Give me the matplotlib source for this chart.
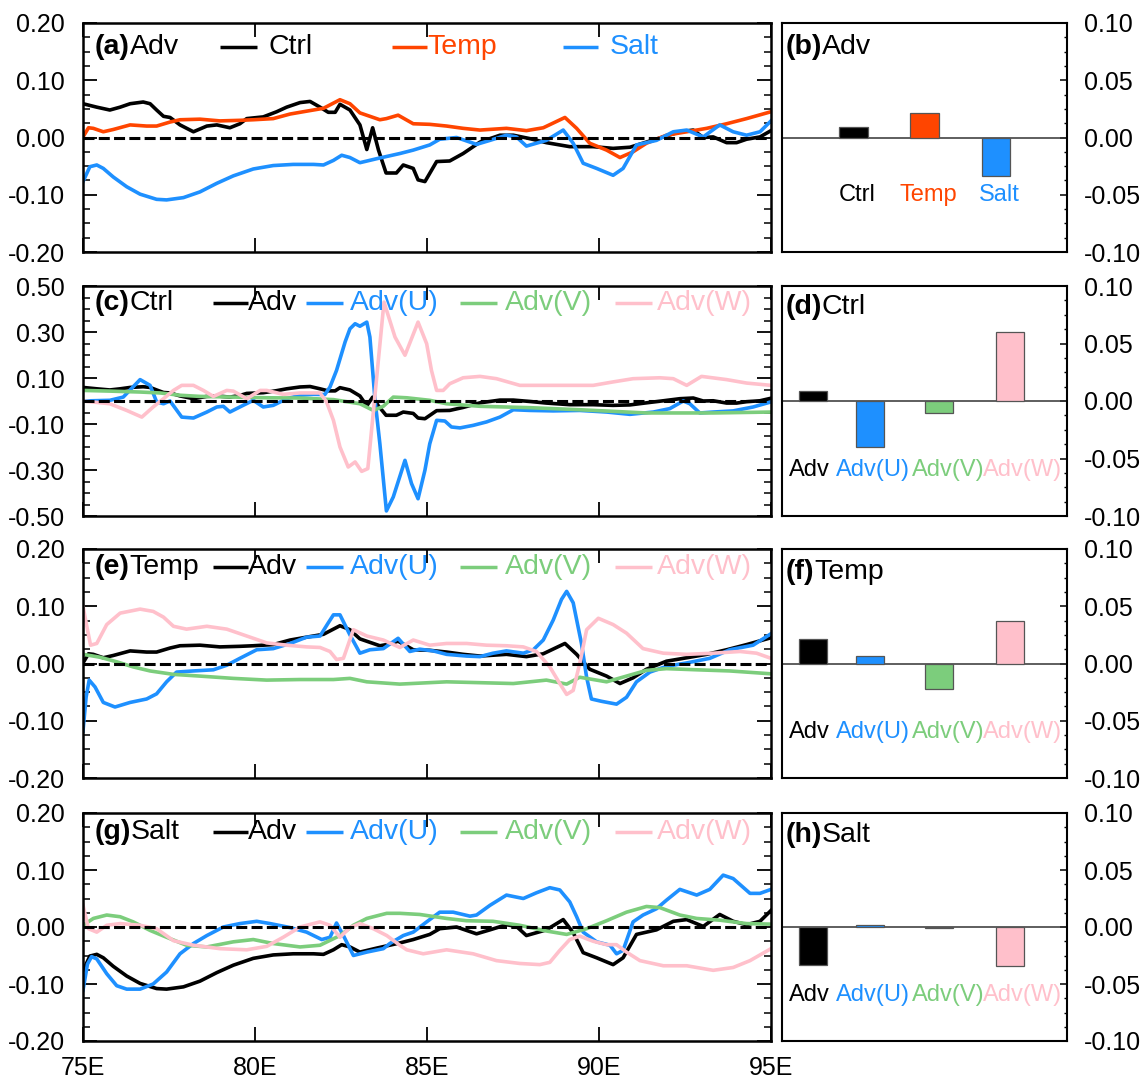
import matplotlib
matplotlib.use("Agg")
import matplotlib.pyplot as plt
from matplotlib.ticker import MultipleLocator, FixedLocator, FormatStrFormatter

plt.rcParams["font.family"] = ["Liberation Sans", "DejaVu Sans"]
plt.rcParams["axes.unicode_minus"] = False

# ---- zonal sections of advection terms (lon, value) ----
ctrl_adv_lon = [75.0, 75.4, 75.78, 76.08, 76.37, 76.75, 76.95, 77.14, 77.34, 77.53, 77.82, 78.21,
                78.6, 78.89, 79.27, 79.56, 79.76, 80.24, 80.63, 80.92, 81.31, 81.6, 81.89, 82.13,
                82.33, 82.47, 82.76, 83.05, 83.25, 83.42, 83.59, 83.81, 84.11, 84.31, 84.6, 84.74,
                84.94, 85.28, 85.66, 86.05, 86.54, 87.12, 87.51, 87.99, 88.47, 89.15, 89.83, 90.41,
                90.9, 91.38, 91.87, 92.35, 92.74, 93.03, 93.32, 93.71, 94.0, 94.29, 94.68, 95.0]
ctrl_adv = [0.059, 0.053, 0.048, 0.053, 0.059, 0.062, 0.059, 0.048, 0.037, 0.035, 0.022, 0.010,
            0.020, 0.022, 0.017, 0.024, 0.033, 0.036, 0.045, 0.053, 0.061, 0.063, 0.053, 0.044,
            0.044, 0.058, 0.048, 0.022, -0.021, 0.017, -0.022, -0.062, -0.062, -0.048, -0.054, -0.074,
            -0.077, -0.042, -0.041, -0.028, -0.008, 0.004, 0.004, -0.002, -0.009, -0.016, -0.016, -0.019,
            -0.017, -0.008, 0.001, 0.010, 0.013, 0.000, 0.001, -0.009, -0.009, -0.003, 0.001, 0.012]

temp_adv_lon = [75.0, 75.16, 75.3, 75.59, 75.88, 76.37, 76.85, 77.14, 77.53, 77.82, 78.4, 78.98,
                79.56, 79.95, 80.53, 81.02, 81.5, 81.99, 82.47, 82.76, 83.05, 83.63, 83.82, 84.16,
                84.6, 85.08, 85.57, 86.05, 86.54, 87.31, 87.89, 88.38, 89.01, 89.35, 89.73, 90.22,
                90.61, 90.99, 91.38, 91.96, 92.55, 93.13, 93.71, 94.29, 95.0]
temp_adv = [0.001, 0.017, 0.016, 0.010, 0.014, 0.022, 0.020, 0.020, 0.027, 0.031, 0.032, 0.029,
            0.030, 0.031, 0.033, 0.041, 0.046, 0.051, 0.066, 0.059, 0.043, 0.031, 0.033, 0.039,
            0.024, 0.023, 0.020, 0.016, 0.013, 0.016, 0.012, 0.017, 0.035, 0.016, -0.010, -0.022,
            -0.035, -0.025, -0.010, 0.004, 0.010, 0.016, 0.024, 0.033, 0.045]

salt_adv_lon = [75.0, 75.2, 75.4, 75.59, 75.88, 76.27, 76.66, 77.14, 77.43, 77.92, 78.4, 78.89,
                79.37, 79.95, 80.53, 81.11, 81.7, 81.99, 82.28, 82.52, 82.76, 83.05, 83.54, 84.21,
                84.6, 85.08, 85.37, 85.86, 86.44, 86.83, 87.31, 87.6, 87.89, 88.47, 88.96, 89.25,
                89.54, 89.93, 90.41, 90.7, 91.09, 91.67, 92.16, 92.55, 93.03, 93.51, 93.9, 94.29,
                94.68, 95.0]
salt_adv = [-0.077, -0.051, -0.048, -0.054, -0.069, -0.086, -0.099, -0.108, -0.109, -0.105, -0.095, -0.080,
            -0.067, -0.055, -0.049, -0.047, -0.047, -0.048, -0.040, -0.031, -0.035, -0.044, -0.037, -0.028,
            -0.022, -0.013, -0.003, 0.000, -0.012, -0.005, 0.004, 0.001, -0.015, -0.005, 0.013, -0.010,
            -0.045, -0.054, -0.066, -0.054, -0.013, -0.005, 0.010, 0.013, 0.001, 0.022, 0.010, 0.004,
            0.010, 0.029]

ctrl_u_lon = [75.0, 75.78, 76.17, 76.66, 76.95, 77.14, 77.34, 77.53, 77.87, 78.21, 78.6, 78.89,
              79.08, 79.27, 79.56, 79.95, 80.24, 80.53, 80.92, 81.31, 81.7, 82.03, 82.18, 82.37,
              82.62, 82.76, 82.91, 83.05, 83.25, 83.34, 83.49, 83.63, 83.82, 84.02, 84.36, 84.55,
              84.74, 84.94, 85.08, 85.28, 85.52, 85.71, 85.96, 86.34, 86.73, 87.12, 87.51, 87.99,
              88.67, 89.44, 90.22, 90.9, 91.58, 92.06, 92.45, 92.64, 92.93, 93.32, 93.9, 94.48, 95.0]
ctrl_u = [0.000, 0.003, 0.017, 0.093, 0.068, -0.004, -0.012, 0.000, -0.070, -0.074, -0.048, -0.026,
          -0.023, -0.048, -0.026, 0.003, -0.026, -0.019, 0.010, 0.025, 0.029, 0.028, 0.061, 0.133,
          0.257, 0.314, 0.336, 0.325, 0.343, 0.278, 0.003, -0.186, -0.478, -0.417, -0.258, -0.359,
          -0.425, -0.301, -0.186, -0.084, -0.087, -0.113, -0.117, -0.106, -0.091, -0.070, -0.038, -0.041,
          -0.043, -0.041, -0.048, -0.058, -0.048, -0.033, 0.000, -0.012, -0.052, -0.048, -0.043, -0.026, -0.004]

ctrl_v_lon = [75.0, 75.78, 76.66, 77.24, 77.82, 78.4, 79.37, 80.34, 81.31, 82.28, 83.05, 83.44,
              83.73, 84.02, 84.41, 85.08, 85.57, 86.54, 87.99, 89.44, 91.38, 93.32, 95.0]
ctrl_v = [0.046, 0.043, 0.039, 0.035, 0.025, 0.020, 0.017, 0.014, 0.013, 0.006, -0.012, -0.041,
          -0.023, 0.017, 0.014, 0.003, -0.012, -0.023, -0.029, -0.038, -0.052, -0.052, -0.048]

ctrl_w_lon = [75.0, 75.78, 76.27, 76.71, 77.04, 77.34, 77.63, 77.87, 78.21, 78.5, 78.79, 79.18,
              79.37, 79.76, 80.15, 80.34, 80.82, 81.31, 81.89, 82.08, 82.28, 82.47, 82.71, 82.91,
              83.1, 83.28, 83.75, 84.07, 84.36, 84.74, 84.99, 85.13, 85.28, 85.47, 85.66, 86.05,
              86.54, 87.02, 87.7, 88.28, 89.06, 89.83, 90.41, 90.99, 91.77, 92.16, 92.55, 92.98,
              93.71, 94.29, 95.0]
ctrl_w = [0.000, -0.012, -0.041, -0.070, -0.026, 0.010, 0.046, 0.068, 0.068, 0.046, 0.020, 0.046,
          0.043, 0.010, 0.046, 0.046, 0.029, 0.035, 0.035, -0.004, -0.084, -0.200, -0.287, -0.265,
          -0.306, -0.294, 0.430, 0.278, 0.199, 0.343, 0.249, 0.133, 0.046, 0.046, 0.075, 0.101,
          0.107, 0.097, 0.068, 0.068, 0.068, 0.068, 0.083, 0.097, 0.101, 0.097, 0.068, 0.107,
          0.093, 0.078, 0.068]

temp_u_lon = [75.0, 75.09, 75.18, 75.35, 75.59, 75.93, 76.37, 76.85, 77.14, 77.43, 77.72, 78.21,
              78.79, 79.18, 79.56, 80.05, 80.53, 81.02, 81.5, 81.89, 82.13, 82.28, 82.47, 82.76,
              83.05, 83.34, 83.73, 84.16, 84.5, 84.79, 85.18, 85.57, 86.15, 86.54, 86.92, 87.31,
              87.8, 88.09, 88.38, 88.67, 88.91, 89.06, 89.25, 89.49, 89.64, 89.78, 90.07, 90.51,
              90.8, 91.09, 91.48, 91.96, 92.55, 93.22, 93.8, 94.48, 95.0]
temp_u = [-0.118, -0.059, -0.029, -0.041, -0.068, -0.076, -0.068, -0.062, -0.053, -0.032, -0.015, -0.013,
          -0.011, -0.003, 0.009, 0.024, 0.026, 0.035, 0.046, 0.048, 0.071, 0.085, 0.085, 0.050,
          0.018, 0.024, 0.026, 0.044, 0.021, 0.025, 0.022, 0.016, 0.013, 0.012, 0.018, 0.022,
          0.018, 0.024, 0.041, 0.076, 0.112, 0.126, 0.106, 0.035, -0.024, -0.062, -0.066, -0.071,
          -0.059, -0.032, -0.015, -0.005, 0.001, 0.009, 0.024, 0.032, 0.052]

temp_v_lon = [75.0, 75.49, 75.98, 76.46, 76.95, 77.63, 78.4, 79.37, 80.34, 81.31, 82.28, 82.76,
              83.25, 84.21, 85.57, 87.51, 88.47, 89.06, 89.44, 90.22, 90.8, 91.38, 91.96, 92.84,
              93.8, 95.0]
temp_v = [0.016, 0.011, 0.003, -0.006, -0.013, -0.019, -0.022, -0.026, -0.029, -0.028, -0.028, -0.026,
          -0.032, -0.036, -0.032, -0.035, -0.029, -0.036, -0.024, -0.032, -0.022, -0.012, -0.009, -0.011,
          -0.013, -0.018]

temp_w_lon = [75.0, 75.13, 75.22, 75.4, 75.69, 76.08, 76.66, 77.04, 77.34, 77.63, 78.01, 78.6,
              79.18, 79.76, 80.34, 80.92, 81.5, 81.89, 82.18, 82.37, 82.57, 82.86, 83.25, 83.73,
              84.21, 84.6, 85.08, 85.57, 86.15, 86.73, 87.31, 87.8, 88.18, 88.57, 88.86, 89.06,
              89.25, 89.44, 89.64, 89.98, 90.41, 90.8, 91.28, 91.87, 92.55, 93.32, 94.1, 94.58, 95.0]
temp_w = [0.100, 0.059, 0.032, 0.035, 0.068, 0.088, 0.095, 0.091, 0.081, 0.065, 0.060, 0.065,
          0.060, 0.048, 0.036, 0.032, 0.029, 0.028, 0.021, 0.007, 0.009, 0.059, 0.048, 0.041,
          0.028, 0.041, 0.032, 0.035, 0.035, 0.032, 0.031, 0.029, 0.021, -0.006, -0.035, -0.054,
          -0.047, 0.000, 0.059, 0.079, 0.068, 0.053, 0.026, 0.018, 0.016, 0.018, 0.021, 0.018, 0.009]

salt_u_lon = [75.0, 75.13, 75.25, 75.4, 75.69, 75.98, 76.27, 76.66, 77.04, 77.43, 77.82, 78.21,
              78.6, 79.08, 79.56, 80.05, 80.44, 81.02, 81.5, 81.94, 82.18, 82.37, 82.57, 82.86,
              83.25, 83.73, 83.92, 84.31, 84.6, 84.99, 85.37, 85.76, 86.25, 86.44, 86.83, 87.31,
              87.8, 88.18, 88.57, 88.86, 89.15, 89.35, 89.54, 89.93, 90.32, 90.51, 90.7, 90.99,
              91.28, 91.67, 91.96, 92.35, 92.84, 93.22, 93.61, 93.9, 94.39, 94.68, 95.0]
salt_u = [-0.111, -0.065, -0.052, -0.056, -0.082, -0.103, -0.109, -0.109, -0.100, -0.079, -0.047, -0.029,
          -0.015, 0.000, 0.006, 0.010, 0.006, -0.001, -0.009, -0.022, -0.018, 0.007, -0.015, -0.050,
          -0.044, -0.038, -0.029, -0.015, -0.009, 0.009, 0.026, 0.026, 0.019, 0.021, 0.038, 0.056,
          0.050, 0.060, 0.069, 0.065, 0.044, 0.018, -0.009, -0.026, -0.032, -0.047, -0.041, 0.009,
          0.021, 0.032, 0.047, 0.066, 0.056, 0.066, 0.091, 0.085, 0.059, 0.059, 0.066]

salt_v_lon = [75.0, 75.3, 75.69, 76.08, 76.46, 76.95, 77.43, 78.01, 78.6, 79.37, 79.95, 80.53,
              81.31, 81.89, 82.47, 82.86, 83.25, 83.83, 84.21, 84.79, 85.57, 86.15, 86.92, 87.7,
              88.47, 89.06, 89.64, 90.22, 90.8, 91.38, 91.77, 92.35, 92.84, 93.51, 94.29, 95.0]
salt_v = [0.003, 0.015, 0.021, 0.018, 0.009, -0.006, -0.018, -0.032, -0.035, -0.026, -0.022, -0.029,
          -0.035, -0.032, -0.015, 0.003, 0.015, 0.024, 0.024, 0.022, 0.015, 0.011, 0.010, 0.003,
          -0.007, -0.013, -0.003, 0.011, 0.026, 0.036, 0.034, 0.021, 0.015, 0.012, 0.006, 0.005]

salt_w_lon = [75.0, 75.16, 75.4, 75.69, 76.08, 76.66, 77.14, 77.63, 78.21, 78.98, 79.76, 80.34,
              80.82, 81.31, 81.89, 82.18, 82.47, 82.76, 83.05, 83.44, 83.83, 84.21, 84.41, 84.89,
              85.57, 86.34, 87.02, 87.7, 88.28, 88.57, 88.86, 89.15, 89.44, 89.83, 90.22, 90.51,
              90.8, 91.19, 91.87, 92.55, 93.32, 93.9, 94.39, 95.0]
salt_w = [0.038, -0.003, -0.009, 0.003, 0.006, 0.003, -0.003, -0.024, -0.032, -0.038, -0.040, -0.034,
          -0.018, 0.000, 0.009, 0.003, -0.018, -0.001, 0.006, -0.003, -0.015, -0.032, -0.040, -0.047,
          -0.040, -0.047, -0.059, -0.064, -0.066, -0.062, -0.041, -0.022, -0.016, -0.025, -0.031, -0.031,
          -0.044, -0.059, -0.068, -0.068, -0.076, -0.071, -0.059, -0.038]

# ---- area means ----
exp_names = ["Ctrl", "Temp", "Salt"]
exp_means = [0.009, 0.0215, -0.0335]
term_names = ["Adv", "Adv(U)", "Adv(V)", "Adv(W)"]
ctrl_terms = [0.009, -0.040, -0.0107, 0.060]
temp_terms = [0.0215, 0.0067, -0.0223, 0.0374]
salt_terms = [-0.0335, 0.0015, -0.001, -0.034]

exp_colors = ["black", "#FF4500", "#1E90FF"]
term_colors = ["black", "#1E90FF", "#7CCD7C", "#FFC0CB"]

W, H = 1143, 1082
fig = plt.figure(figsize=(W / 100, H / 100), dpi=100)

row_top = [23, 286, 549, 813]
row_h = [229, 230, 229, 228]

TICK_FS = 18
KEY_FS = 20.5
BAR_FS = 17


def make_axes(left, width, r):
    return fig.add_axes([left / W, 1 - (row_top[r] + row_h[r]) / H, width / W, row_h[r] / H])


def title(ax, tag, name, y, x=0.017):
    t = ax.text(x, y, tag, transform=ax.transAxes, fontsize=KEY_FS, fontweight="bold",
                va="center", ha="left", zorder=6)
    ax.annotate(name, xy=(1, 0.5), xycoords=t, fontsize=KEY_FS, va="center", ha="left")


def key(ax, x0, x1, xt, y, color, label):
    ax.plot([x0, x1], [y, y], color=color, lw=2.5, transform=ax.transAxes,
            clip_on=False, solid_capstyle="butt", zorder=6)
    ax.text(xt, y, label, color=color, transform=ax.transAxes, fontsize=KEY_FS,
            va="center", ha="left", zorder=6)


def line_panel(r, series, tag, name, keys, ypos, ylim, major, minor, bottom=False):
    ax = make_axes(83, 688, r)
    for lon, val, c, lab in series:
        ax.plot(lon, val, color=c, lw=2.6, solid_joinstyle="round")
    ax.axhline(0, color="black", lw=2.2, ls=(0, (3.6, 1.4)), zorder=5)
    ax.set_xlim(75, 95)
    ax.set_ylim(*ylim)
    ax.set_xticks([75, 80, 85, 90, 95])
    if bottom:
        ax.set_xticklabels(["75E", "80E", "85E", "90E", "95E"])
    else:
        ax.set_xticklabels([])
    ax.yaxis.set_major_locator(FixedLocator(major))
    ax.yaxis.set_minor_locator(MultipleLocator(minor))
    ax.yaxis.set_major_formatter(FormatStrFormatter("%.2f"))
    ax.tick_params(which="both", direction="in", top=True, right=True, labelsize=TICK_FS)
    ax.tick_params(which="major", length=10, width=1.3)
    ax.tick_params(which="minor", length=5, width=1.1)
    ax.tick_params(axis="y", pad=13)
    ax.tick_params(axis="x", pad=11)
    for s in ax.spines.values():
        s.set_linewidth(1.8)
    title(ax, tag, name, ypos)
    for (x0, x1, xt), (lon, val, c, lab) in zip(keys, series):
        key(ax, x0, x1, xt, ypos, c, lab)
    return ax


def bar_panel(r, pos, vals, colors, labels, lab_pos, lab_y, tag, name, ypos):
    ax = make_axes(782, 285, r)
    ax.axhline(0, color="#333333", lw=1.1, zorder=2)
    ax.bar(pos, vals, width=0.4, color=colors, edgecolor="#555555", lw=0.9, zorder=3)
    for xl, lab, c in zip(lab_pos, labels, colors):
        ax.text(xl, lab_y, lab, color=c, fontsize=BAR_FS, ha="center", va="center")
    ax.set_xlim(0, 4)
    ax.set_ylim(-0.1, 0.1)
    ax.set_xticks([])
    ax.yaxis.set_major_locator(MultipleLocator(0.05))
    ax.yaxis.set_minor_locator(MultipleLocator(0.0125))
    ax.yaxis.set_major_formatter(FormatStrFormatter("%.2f"))
    ax.tick_params(axis="y", which="both", direction="in", left=False, right=True,
                   labelleft=False, labelright=True, labelsize=TICK_FS, pad=12)
    ax.tick_params(axis="y", which="major", length=5, width=1.1)
    ax.tick_params(axis="y", which="minor", length=2.5, width=1.0)
    for s in ax.spines.values():
        s.set_linewidth(1.5)
    title(ax, tag, name, ypos, x=0.012)
    return ax


tick_left = [-0.2, -0.1, 0.0, 0.1, 0.2]
tick_c = [-0.5, -0.3, -0.1, 0.1, 0.3, 0.5]
keys3 = [(0.199, 0.253, 0.269), (0.449, 0.500, 0.500), (0.698, 0.749, 0.765)]
keys4 = [(0.189, 0.240, 0.240), (0.324, 0.378, 0.388), (0.548, 0.602, 0.613), (0.773, 0.827, 0.834)]

line_panel(0, [(ctrl_adv_lon, ctrl_adv, "black", "Ctrl"),
               (temp_adv_lon, temp_adv, "#FF4500", "Temp"),
               (salt_adv_lon, salt_adv, "#1E90FF", "Salt")],
           "(a)", "Adv", keys3, 0.895, (-0.2, 0.2), tick_left, 0.025)
line_panel(1, [(ctrl_adv_lon, ctrl_adv, "black", "Adv"),
               (ctrl_u_lon, ctrl_u, "#1E90FF", "Adv(U)"),
               (ctrl_v_lon, ctrl_v, "#7CCD7C", "Adv(V)"),
               (ctrl_w_lon, ctrl_w, "#FFC0CB", "Adv(W)")],
           "(c)", "Ctrl", keys4, 0.926, (-0.5, 0.5), tick_c, 0.05)
line_panel(2, [(temp_adv_lon, temp_adv, "black", "Adv"),
               (temp_u_lon, temp_u, "#1E90FF", "Adv(U)"),
               (temp_v_lon, temp_v, "#7CCD7C", "Adv(V)"),
               (temp_w_lon, temp_w, "#FFC0CB", "Adv(W)")],
           "(e)", "Temp", keys4, 0.921, (-0.2, 0.2), tick_left, 0.025)
line_panel(3, [(salt_adv_lon, salt_adv, "black", "Adv"),
               (salt_u_lon, salt_u, "#1E90FF", "Adv(U)"),
               (salt_v_lon, salt_v, "#7CCD7C", "Adv(V)"),
               (salt_w_lon, salt_w, "#FFC0CB", "Adv(W)")],
           "(g)", "Salt", keys4, 0.917, (-0.2, 0.2), tick_left, 0.025, bottom=True)

exp_pos = [1, 2, 3]
term_pos = [0.435, 1.235, 2.2, 3.2]
term_lab_pos = [0.39, 1.28, 2.33, 3.37]
bar_panel(0, exp_pos, exp_means, exp_colors, exp_names, [1.05, 2.05, 3.05], -0.05, "(b)", "Adv", 0.895)
bar_panel(1, term_pos, ctrl_terms, term_colors, term_names, term_lab_pos, -0.06, "(d)", "Ctrl", 0.909)
bar_panel(2, term_pos, temp_terms, term_colors, term_names, term_lab_pos, -0.06, "(f)", "Temp", 0.9)
bar_panel(3, term_pos, salt_terms, term_colors, term_names, term_lab_pos, -0.06, "(h)", "Salt", 0.904)

fig.savefig("out.png", dpi=100)
